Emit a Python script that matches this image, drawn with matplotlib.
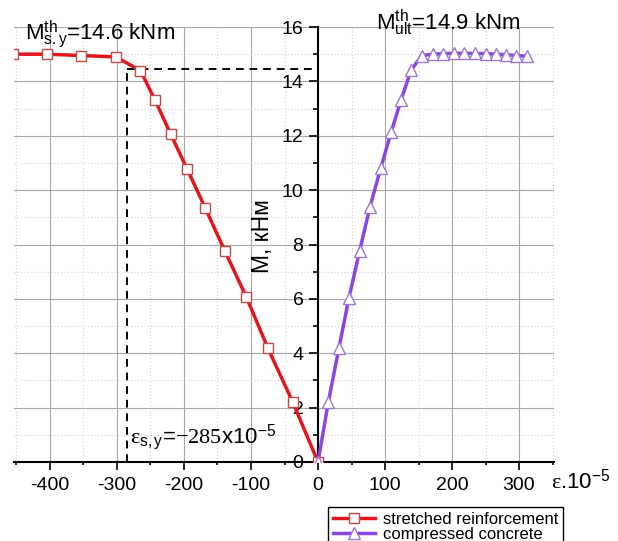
import matplotlib
matplotlib.use('Agg')
import matplotlib.pyplot as plt
from matplotlib.ticker import MultipleLocator

plt.rcParams['font.family'] = ['Liberation Sans', 'DejaVu Sans']
plt.rcParams['mathtext.fontset'] = 'custom'
plt.rcParams['mathtext.rm'] = 'Liberation Serif'
plt.rcParams['mathtext.it'] = 'Liberation Serif:italic'
plt.rcParams['mathtext.bf'] = 'Liberation Serif:bold'
plt.rcParams['mathtext.sf'] = 'Liberation Sans'
plt.rcParams['axes.unicode_minus'] = False

# ---- data ----
reinf_strain = [-455, -404, -353, -302, -265, -243, -220, -195, -168, -139, -107, -75, -38, 0]
reinf_moment = [15.0, 15.0, 14.95, 14.9, 14.4, 13.3, 12.07, 10.76, 9.33, 7.76, 6.07, 4.2, 2.22, 0.0]

conc_strain = [0, 15.4, 31.3, 46.3, 62, 77.5, 93.5, 109, 124, 139, 155, 172, 187, 203,
               218, 234, 250, 265, 281, 296, 312]
conc_moment = [0.0, 2.2, 4.2, 6.05, 7.75, 9.38, 10.8, 12.12, 13.32, 14.42, 14.95, 15.0,
               15.02, 15.03, 15.03, 15.03, 15.02, 15.0, 14.98, 14.95, 14.92]

eps_sy = -285
m_sy_line = 14.45

x_major = [-400, -300, -200, -100, 0, 100, 200, 300]
y_major = [0, 2, 4, 6, 8, 10, 12, 14, 16]

label_reinf = 'stretched reinforcement'
label_conc = 'compressed concrete'

# ---- figure ----
W, H = 618, 541
fig = plt.figure(figsize=(W / 100, H / 100), dpi=100)
ax = fig.add_axes([14 / W, 79 / H, 540 / W, 435 / H])
ax.set_xlim(-453.7, 352.2)
ax.set_ylim(0, 16)

ax.set_xticks(x_major)
ax.set_yticks(y_major)
ax.xaxis.set_minor_locator(MultipleLocator(50))
ax.yaxis.set_minor_locator(MultipleLocator(1))

ax.grid(which='major', color='#a8a8a8', lw=0.8, ls='-', zorder=0)
ax.grid(which='minor', color='#d2d2d2', lw=0.8, ls=(0, (1, 2)), zorder=0)
ax.set_axisbelow(True)

for t in ax.yaxis.get_major_ticks():
    if abs(t.get_loc() - 16) < 1e-6:
        t.gridline.set_visible(False)

ax.spines['top'].set_visible(False)
ax.spines['right'].set_visible(False)
ax.spines['left'].set_position(('data', 0))
ax.spines['left'].set_linewidth(1.5)
ax.spines['bottom'].set_linewidth(1.5)

ax.tick_params(axis='x', which='major', direction='out', length=5.5, width=1.2,
               labelsize=14, pad=5)
ax.tick_params(axis='x', which='minor', direction='out', length=2.5, width=1.2)
ax.tick_params(axis='y', which='major', direction='out', length=6.5, width=1.2,
               labelsize=14, pad=4)
ax.tick_params(axis='y', which='minor', direction='out', length=3.5, width=1.2)

# dashed guide lines
ax.plot([eps_sy, eps_sy], [0, m_sy_line], color='black', lw=1.4, dashes=(4, 3), zorder=3)
ax.plot([eps_sy, 0], [m_sy_line, m_sy_line], color='black', lw=1.4, dashes=(4, 3), zorder=3)

l1, = ax.plot(reinf_strain, reinf_moment, color='#e3161b', lw=2.5, marker='s', ms=6.8,
              mfc='white', mec='#c24a4a', mew=1.0, label=label_reinf, zorder=4)
l2, = ax.plot(conc_strain, conc_moment, color='#8a45e5', lw=2.5, marker='^', ms=9,
              mfc='white', mec='#9d78cf', mew=1.0, label=label_conc, zorder=4)

# texts
fig.text(25 / W, 1 - 39 / H, r'$\mathsf{M}^{\mathsf{th}}_{\mathsf{s.y}}$=14.6 kNm',
         fontsize=16, ha='left', va='baseline')
fig.text(376 / W, 1 - 30 / H, r'$\mathsf{M}^{\mathsf{th}}_{\mathsf{ult}}$=14.9 kNm',
         fontsize=16, ha='left', va='baseline')
fig.text(130 / W, 1 - 442 / H,
         r'$\mathrm{\varepsilon}_{\mathsf{s,y}}$=$\mathrm{-285}$x10$^{\mathsf{-5}}$',
         fontsize=16, ha='left', va='baseline')
fig.text(551 / W, 1 - 489 / H, r'$\mathrm{\varepsilon}$.10$^{\mathsf{-5}}$',
         fontsize=16, ha='left', va='baseline')
fig.text(262 / W, 1 - 236 / H, 'M, кНм', rotation=90, fontsize=16.5,
         ha='center', va='center')

leg = fig.legend([l1, l2], [label_reinf, label_conc], loc='upper left',
                 bbox_to_anchor=(328 / W, 1 - 506.7 / H), fontsize=12, frameon=True,
                 fancybox=False, edgecolor='black', framealpha=1, borderpad=0.3,
                 labelspacing=0.0, handlelength=2.5, handletextpad=0.5,
                 borderaxespad=0, numpoints=1)
leg.get_frame().set_linewidth(1.0)

fig.savefig('out.png', dpi=100)
